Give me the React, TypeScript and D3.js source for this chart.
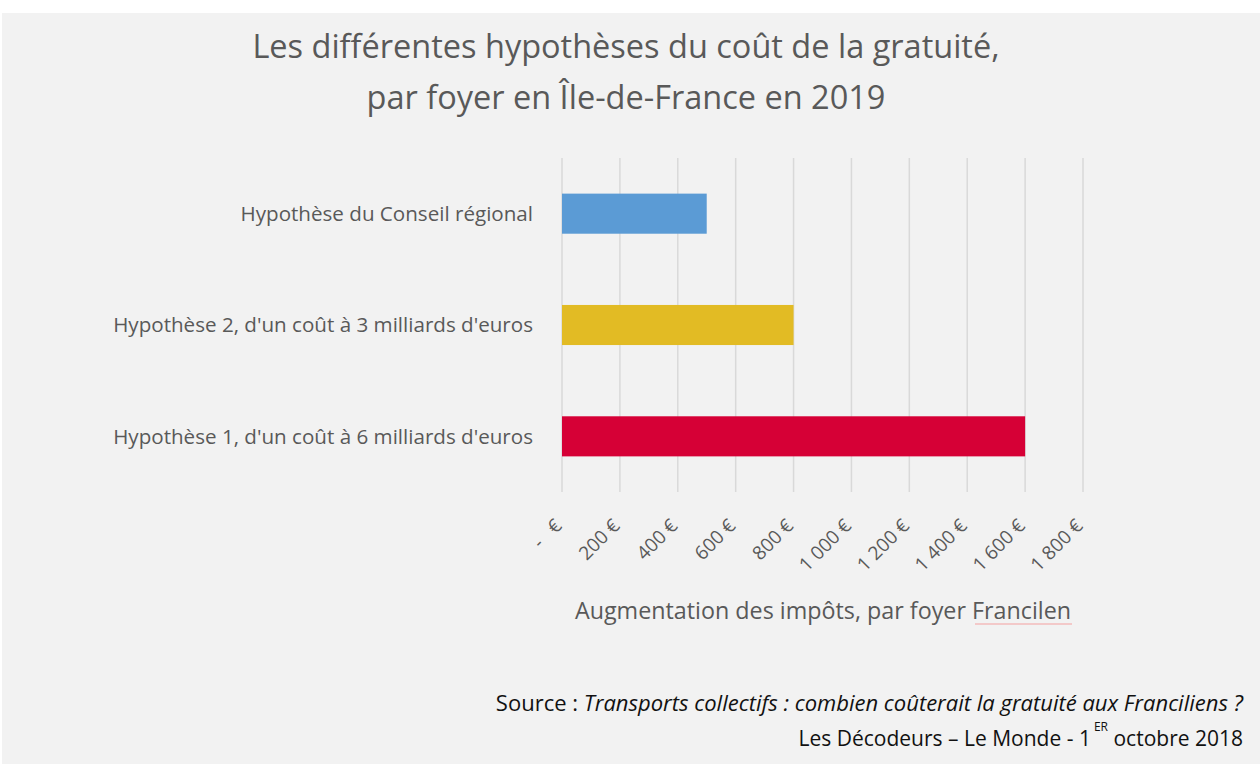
import { useEffect, useRef } from 'react'
import * as d3 from 'd3'

const categories = [
  "Hypothèse du Conseil régional",
  "Hypothèse 2, d'un coût à 3 milliards d'euros",
  "Hypothèse 1, d'un coût à 6 milliards d'euros",
]
const values = [500, 800, 1600]
const barColors = ["#5b9bd5", "#e2bb24", "#d60036"]
const ticks = [0, 200, 400, 600, 800, 1000, 1200, 1400, 1600, 1800]

const FONT = "'Open Sans', Lato, sans-serif"

function fmtEuro(v: number) {
  if (v === 0) return "-\u00a0\u00a0\u00a0€"
  const s = String(v)
  return (s.length > 3 ? s.slice(0, -3) + "\u00a0" + s.slice(-3) : s) + "\u00a0€"
}

export default function App() {
  const svgRef = useRef<SVGSVGElement>(null)

  useEffect(() => {
    if (!svgRef.current) return
    const svg = d3.select(svgRef.current)
    svg.selectAll("*").remove()

    svg.append("rect").attr("x", 2).attr("y", 13).attr("width", 1258).attr("height", 751).attr("fill", "#f2f2f2")

    const x = d3.scaleLinear().domain([0, 1800]).range([562, 1083])
    const y = d3.scaleBand().domain(categories).range([158, 492]).paddingInner(0.64).paddingOuter(0.32)

    // title
    const title = svg.append("text")
      .attr("text-anchor", "middle")
      .style("font-family", FONT)
      .style("font-size", "32.5px")
      .style("fill", "#595959")
    title.append("tspan").attr("x", 626).attr("y", 58).text("Les différentes hypothèses du coût de la gratuité,")
    title.append("tspan").attr("x", 626).attr("y", 109).text("par foyer en Île-de-France en 2019")

    // grid
    svg.selectAll(".grid")
      .data(ticks)
      .enter().append("line")
      .attr("x1", d => x(d)).attr("x2", d => x(d))
      .attr("y1", 158).attr("y2", 492)
      .attr("stroke", "#d9d9d9")
      .attr("stroke-width", 1.5)

    // bars
    svg.selectAll(".bar")
      .data(values)
      .enter().append("rect")
      .attr("x", x(0))
      .attr("y", (d, i) => y(categories[i])!)
      .attr("width", d => x(d) - x(0))
      .attr("height", y.bandwidth())
      .attr("fill", (d, i) => barColors[i])

    // category labels
    svg.selectAll(".cat")
      .data(categories)
      .enter().append("text")
      .attr("x", 533)
      .attr("y", d => y(d)! + y.bandwidth() / 2)
      .attr("dy", "0.35em")
      .attr("text-anchor", "end")
      .style("font-family", FONT)
      .style("font-size", "20.6px")
      .style("fill", "#595959")
      .text(d => d)

    // tick labels
    svg.selectAll(".tick")
      .data(ticks)
      .enter().append("text")
      .attr("transform", d => `translate(${x(d) + 1},${527}) rotate(-45)`)
      .attr("text-anchor", "end")
      .style("font-family", FONT)
      .style("font-size", "19px")
      .style("fill", "#595959")
      .text(d => fmtEuro(d))

    // axis title
    svg.append("text")
      .attr("x", 823).attr("y", 619)
      .attr("text-anchor", "middle")
      .style("font-family", FONT)
      .style("font-size", "23.3px")
      .style("fill", "#595959")
      .text("Augmentation des impôts, par foyer Francilen")
    svg.append("line")
      .attr("x1", 975).attr("x2", 1072).attr("y1", 624).attr("y2", 624)
      .attr("stroke", "#f4a0a0").attr("stroke-width", 1)

    // source
    const src = svg.append("text")
      .attr("x", 1243).attr("y", 711)
      .attr("text-anchor", "end")
      .style("font-family", FONT)
      .style("font-size", "22px")
      .style("fill", "#111")
    src.append("tspan").text("Source : ")
    src.append("tspan").style("font-style", "italic").text("Transports collectifs : combien coûterait la gratuité aux Franciliens ?")

    const src2 = svg.append("text")
      .attr("x", 1243).attr("y", 746)
      .attr("text-anchor", "end")
      .style("font-family", FONT)
      .style("font-size", "21px")
      .style("fill", "#111")
    src2.append("tspan").text("Les Décodeurs – Le Monde - 1")
    src2.append("tspan").attr("dx", 3).attr("dy", -15).style("font-size", "12px").text("ER")
    src2.append("tspan").attr("dy", 15).text(" octobre 2018")
  }, [])

  return (
    <svg ref={svgRef} width={1260} height={764}
      style={{ position: 'absolute', left: 0, top: 0, background: '#fff' }} />
  )
}
